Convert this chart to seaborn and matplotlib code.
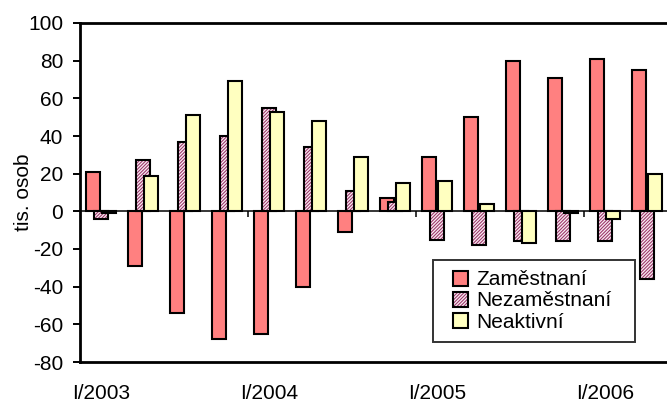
import matplotlib
matplotlib.use("Agg")
import matplotlib.pyplot as plt
from matplotlib.colors import to_rgba
from matplotlib.legend_handler import HandlerPatch
from matplotlib.patches import Rectangle
import numpy as np
import pandas as pd
import seaborn as sns

# Quarterly year-on-year changes (thousands of persons)
quarters = [
    "I/2003", "II/2003", "III/2003", "IV/2003",
    "I/2004", "II/2004", "III/2004", "IV/2004",
    "I/2005", "II/2005", "III/2005", "IV/2005",
    "I/2006", "II/2006",
]
zamestnani = [21, -29, -54, -68, -65, -40, -11, 7, 29, 50, 80, 71, 81, 75]
nezamestnani = [-4, 27, 37, 40, 55, 34, 11, 5, -15, -18, -16, -16, -16, -36]
neaktivni = [-1, 19, 51, 69, 53, 48, 29, 15, 16, 4, -17, -1, -4, 20]

series_names = ["Zaměstnaní", "Nezaměstnaní", "Neaktivní"]
series_colors = ["#FF8080", "#F8EAF2", "#FFFFC0"]
hatch_color = "#993366"

df = pd.DataFrame({
    "quarter": quarters * 3,
    "value": zamestnani + nezamestnani + neaktivni,
    "series": np.repeat(series_names, len(quarters)),
})

sns.set_style("white")
plt.rcParams["font.family"] = ["Liberation Sans", "DejaVu Sans"]
plt.rcParams["hatch.linewidth"] = 0.75
plt.rcParams["axes.unicode_minus"] = False
for key in ["text.color", "axes.labelcolor", "xtick.color", "ytick.color"]:
    plt.rcParams[key] = "black"

fig = plt.figure(figsize=(6.67, 4.03), dpi=100)
ax = fig.add_axes([80 / 667, 41 / 403, 588 / 667, 339 / 403])

# Overlapping clustered bars: negative gap widens each dodged bar past its slot
sns.barplot(
    data=df, x="quarter", y="value", hue="series",
    order=quarters, hue_order=series_names,
    palette=series_colors, width=0.57, gap=-0.8,
    edgecolor="black", linewidth=1.5, saturation=1,
    legend=False, ax=ax,
)

# Fine diagonal hatch for the unemployed series
for p in ax.containers[1]:
    p.set_hatch("/" * 10)
    try:
        p.set_hatchcolor(hatch_color)
    except AttributeError:
        p._hatch_color = to_rgba(hatch_color)

ax.set_xlim(-0.5, len(quarters) - 0.5)
ax.set_ylim(-80, 100)
ax.set_yticks(np.arange(-80, 101, 20))

# Year labels under the first quarter of each year
year_starts = [i for i, q in enumerate(quarters) if q.startswith("I/")]
ax.set_xticks(year_starts)
ax.set_xticklabels([quarters[i] for i in year_starts])
ax.tick_params(axis="x", length=0, pad=16, labelsize=15)
ax.tick_params(axis="y", direction="out", length=5, width=1.4, pad=7,
               labelsize=15, left=True)

# Category axis crossing at zero with year boundary ticks
ax.axhline(0, color="black", linewidth=1.1, zorder=5)
ax.vlines([i - 0.5 for i in year_starts if i > 0], -3, 0,
          color="black", linewidth=1.1, zorder=5)

for side in ["left", "top", "bottom"]:
    ax.spines[side].set_visible(True)
    ax.spines[side].set_color("black")
    ax.spines[side].set_linewidth(2)
ax.spines["right"].set_visible(False)

ax.set_xlabel("")
ax.set_ylabel("tis. osob", fontsize=15)
ax.yaxis.set_label_coords(-0.08, 0.5)


def small_square(legend, orig_handle, xdescent, ydescent, width, height, fontsize):
    # Square key placed at the right end of the handle box
    side = 0.52 * fontsize * fig.dpi / 72
    side = min(side, height * 1.2)
    return Rectangle((-xdescent + width - side, -ydescent + (height - side) / 2),
                     side, side)


handles = [c.patches[0] for c in ax.containers]
fs = 15
box_left, box_right, box_top, box_bottom = 433, 635, 260, 342
leg = ax.legend(
    handles, series_names,
    loc="upper left",
    bbox_to_anchor=(box_left / 667, 1 - box_bottom / 403,
                    (box_right - box_left) / 667, (box_bottom - box_top) / 403),
    bbox_transform=fig.transFigure, mode="expand",
    handler_map={h: HandlerPatch(patch_func=small_square) for h in handles},
    fontsize=fs, frameon=True, fancybox=False, shadow=False,
    handlelength=1.17, handleheight=0.55, handletextpad=0.43,
    labelspacing=0.1, borderpad=0.5, borderaxespad=0,
)
leg.get_frame().set_edgecolor("black")
leg.get_frame().set_linewidth(1.4)
leg.set_zorder(10)

fig.savefig("out.png", dpi=100, facecolor="white")
